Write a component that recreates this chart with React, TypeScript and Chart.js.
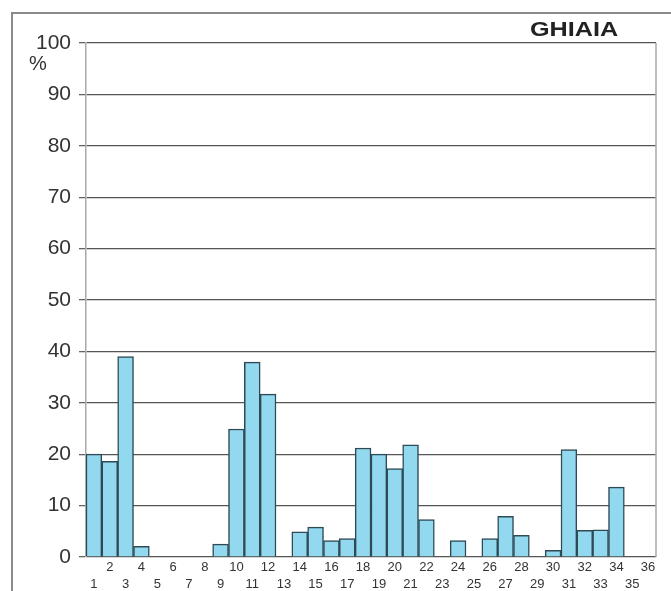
import { useEffect, useRef } from 'react';
import { Chart, registerables } from 'chart.js';

Chart.register(...registerables);

const categories = ['1','2','3','4','5','6','7','8','9','10','11','12','13','14','15','16','17','18','19','20','21','22','23','24','25','26','27','28','29','30','31','32','33','34','35','36'];
const values = [20, 18.6, 39, 2.1, 0, 0, 0, 0, 2.5, 24.9, 37.9, 31.7, 0, 4.9, 5.8, 3.2, 3.6, 21.2, 20, 17.2, 21.8, 7.3, 0, 3.2, 0, 3.6, 7.9, 4.2, 0, 1.3, 20.9, 5.2, 5.3, 13.6, 0, 0];
const yMin = 0;
const yMax = 100;
const yStep = 10;
const titleText = 'GHIAIA';
const unitText = '%';

const FONT = 'Arial, "Liberation Sans", Helvetica, sans-serif';

const decorations = {
  id: 'decorations',
  beforeDraw(chart: any) {
    const ctx = chart.ctx;
    ctx.save();
    ctx.strokeStyle = '#8a8a8a';
    ctx.lineWidth = 2;
    ctx.beginPath();
    ctx.moveTo(12, 600);
    ctx.lineTo(12, 13);
    ctx.lineTo(680, 13);
    ctx.stroke();
    ctx.restore();
  },
  afterDraw(chart: any) {
    const ctx = chart.ctx;
    const a = chart.chartArea;
    ctx.save();
    ctx.strokeStyle = '#a8a8a8';
    ctx.lineWidth = 1.5;
    ctx.beginPath();
    ctx.moveTo(a.right, a.top);
    ctx.lineTo(a.right, a.bottom);
    ctx.stroke();

    ctx.fillStyle = '#222';
    ctx.font = `bold 21px ${FONT}`;
    ctx.textAlign = 'center';
    ctx.textBaseline = 'middle';
    ctx.translate(574, 30);
    ctx.scale(1.2, 1);
    ctx.fillText(titleText, 0, 0);
    ctx.restore();

    ctx.save();
    ctx.fillStyle = '#333';
    ctx.font = `20px ${FONT}`;
    ctx.textAlign = 'center';
    ctx.textBaseline = 'middle';
    ctx.fillText(unitText, 38, 64);
    ctx.restore();
  },
};

export default function App() {
  const ref = useRef<HTMLCanvasElement | null>(null);

  useEffect(() => {
    if (!ref.current) return;
    Chart.defaults.font.family = FONT;
    const chart = new Chart(ref.current, {
      type: 'bar',
      data: {
        labels: categories,
        datasets: [
          {
            data: values,
            backgroundColor: '#92d8ef',
            borderColor: '#2e4a55',
            borderWidth: 1.5,
            barPercentage: 1,
            categoryPercentage: 1,
          },
        ],
      },
      options: {
        responsive: false,
        animation: false,
        layout: { padding: { left: 0, top: 43, right: 15, bottom: 0 } },
        plugins: { legend: { display: false }, tooltip: { enabled: false } },
        scales: {
          x: {
            grid: { display: false, drawTicks: false },
            border: { display: false },
            ticks: {
              autoSkip: false,
              maxRotation: 0,
              minRotation: 0,
              padding: 2,
              color: '#333',
              font: { size: 13, lineHeight: 1.3 },
              callback: (_v: any, i: number) => (i % 2 === 0 ? ['', categories[i]] : [categories[i]]),
            },
            afterFit: (s: any) => {
              s.height = 34;
            },
          },
          y: {
            min: yMin,
            max: yMax,
            ticks: { stepSize: yStep, padding: 8, color: '#333', font: { size: 21 } },
            grid: { color: '#555', lineWidth: 1.3, tickLength: 7, tickColor: '#666' },
            border: { color: '#aaa', width: 1.5 },
            afterFit: (s: any) => {
              s.width = 86;
            },
          },
        },
      },
      plugins: [decorations],
    });
    return () => chart.destroy();
  }, []);

  return (
    <div style={{ position: 'absolute', left: 0, top: 0, width: 671, height: 591, background: '#fff' }}>
      <canvas ref={ref} width={671} height={591} style={{ display: 'block' }} />
    </div>
  );
}
